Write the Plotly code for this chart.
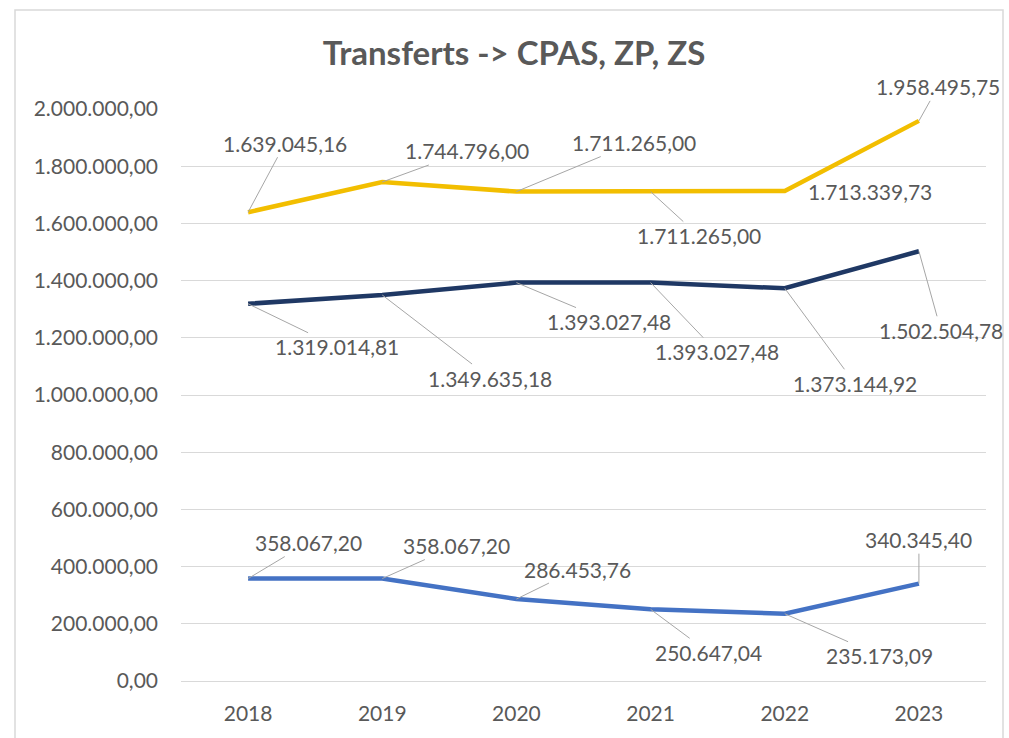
import plotly.graph_objects as go

years = ["2018", "2019", "2020", "2021", "2022", "2023"]
serie_jaune = [1639045.16, 1744796.00, 1711265.00, 1711265.00, 1713339.73, 1958495.75]
serie_marine = [1319014.81, 1349635.18, 1393027.48, 1393027.48, 1373144.92, 1502504.78]
serie_bleue = [358067.20, 358067.20, 286453.76, 250647.04, 235173.09, 340345.40]
y_ticks = [0, 200000, 400000, 600000, 800000, 1000000, 1200000, 1400000, 1600000, 1800000, 2000000]

# label offsets in pixels (dx, dy) from each point
off_jaune = [(37, -69), (85, -31), (118, -49), (48, 44), (85, 1), (19, -34)]
off_marine = [(89, 43), (108, 83), (93, 39), (66, 69), (70, 95), (22, 79)]
off_bleue = [(60, -36), (74, -33), (61, -30), (58, 43), (95, 42), (0, -44)]
leader_jaune = [True, True, True, True, False, True]
leader_all = [True] * 6

TXT = "#595959"
FONT = "Lato"
W, H = 1009, 738
L, R, T, B = 181, 23, 109, 57


def fmt_eu(v):
    s = f"{v:,.2f}"
    return s.replace(",", "X").replace(".", ",").replace("X", ".")


fig = go.Figure()
series = [
    ("CPAS", serie_jaune, "#F2BE00", off_jaune, leader_jaune),
    ("ZP", serie_marine, "#1F3864", off_marine, leader_all),
    ("ZS", serie_bleue, "#4472C4", off_bleue, leader_all),
]
annotations = []
for name, vals, col, offs, leaders in series:
    fig.add_trace(go.Scatter(x=years, y=vals, mode="lines", name=name,
                             line=dict(color=col, width=4.5), hoverinfo="skip"))
    for i, (v, (dx, dy), lead) in enumerate(zip(vals, offs, leaders)):
        if lead:
            annotations.append(dict(x=i, y=v, xref="x", yref="y", text=fmt_eu(v),
                                    showarrow=True, arrowhead=0, arrowwidth=1,
                                    arrowcolor="#A6A6A6", standoff=0, ax=dx, ay=dy,
                                    font=dict(family=FONT, size=21, color=TXT)))
        else:
            annotations.append(dict(x=i, y=v, xref="x", yref="y", text=fmt_eu(v),
                                    showarrow=False, xshift=dx, yshift=-dy,
                                    font=dict(family=FONT, size=21, color=TXT)))

pw, ph = W - L - R, H - T - B
fig.update_layout(
    width=W, height=H,
    margin=dict(l=L, r=R, t=T, b=B, autoexpand=False),
    paper_bgcolor="white", plot_bgcolor="white",
    separators=",.",
    showlegend=False,
    font=dict(family=FONT, size=21, color=TXT),
    title=dict(text="<b>Transferts -> CPAS, ZP, ZS</b>", xref="container", yref="container",
               x=514 / W, y=1 - 53 / H, xanchor="center", yanchor="middle",
               font=dict(family=FONT, size=33, color=TXT)),
    xaxis=dict(type="category", range=[-0.5, len(years) - 0.5], autorange=False,
               automargin=False,
               showgrid=False, showline=True, linecolor="#D9D9D9",
               linewidth=1, ticks="", ticklabelstandoff=14,
               tickfont=dict(family=FONT, size=21, color=TXT), fixedrange=True),
    yaxis=dict(range=[0, 2000000], tickvals=y_ticks, tickformat=",.2f",
               automargin=False,
               showgrid=True, gridcolor="#D9D9D9", gridwidth=1, zeroline=False,
               showline=False, ticks="", ticklabelstandoff=22,
               tickfont=dict(family=FONT, size=21, color=TXT), fixedrange=True),
    annotations=annotations,
    shapes=[dict(type="rect", xref="paper", yref="paper",
                 x0=(15 - L) / pw, x1=(1003 - L) / pw,
                 y0=(T + ph - 760) / ph, y1=(T + ph - 10) / ph,
                 line=dict(color="#D9D9D9", width=1.5), layer="below")],
)

fig.write_html(
    "out.html",
    config={"displayModeBar": False, "staticPlot": True},
    post_script="document.body.style.margin='0';document.body.style.overflow='hidden';",
)
